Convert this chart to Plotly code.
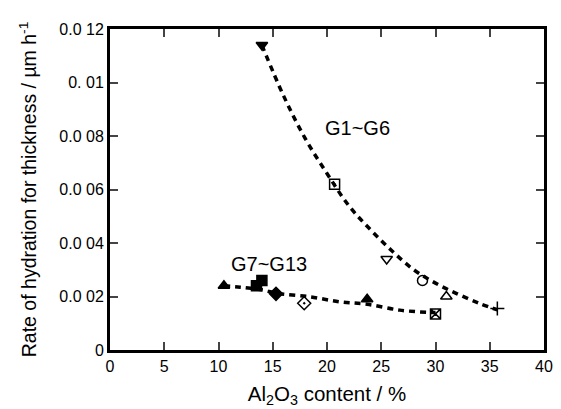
import plotly.graph_objects as go

# Upper group G1~G6 data
g1_x = [14.0, 20.7, 25.5, 28.8, 31.0, 35.7]
g1_y = [0.0114, 0.0062, 0.0034, 0.0026, 0.0020, 0.00155]
g1_sym = ["triangle-down", "square-open-dot", "triangle-down-open", "circle-open", "triangle-up-open", "cross-thin-open"]

# Lower group G7~G13 data
g7_x = [10.5, 13.5, 14.0, 15.3, 17.9, 23.7, 30.0]
g7_y = [0.0024, 0.0024, 0.0026, 0.0021, 0.00175, 0.0019, 0.00135]
g7_sym = ["triangle-up", "square", "square", "diamond", "diamond-open-dot", "triangle-up", "square-x-open"]

# Dashed trend curves
c1_x = [14.0, 16, 18, 20, 22, 24, 26, 28, 30, 32, 34, 35.7]
c1_y = [0.0114, 0.0095, 0.0079, 0.0066, 0.0054, 0.0045, 0.0037, 0.0030, 0.0025, 0.0021, 0.00175, 0.0015]
c2_x = [10.5, 12, 14, 15.4, 18.4, 21.2, 23.7, 26.7, 29.2, 30.0]
c2_y = [0.0024, 0.00235, 0.00225, 0.00212, 0.00199, 0.0018, 0.00171, 0.00149, 0.00141, 0.0014]

y_ticks = [0, 0.002, 0.004, 0.006, 0.008, 0.010, 0.012]
y_labels = ["0", "0.0 02", "0.0 04", "0.0 06", "0.0 08", "0. 01", "0.0 12"]
x_ticks = [0, 5, 10, 15, 20, 25, 30, 35, 40]

fig = go.Figure()
fig.add_trace(go.Scatter(x=c1_x, y=c1_y, mode="lines", line=dict(color="black", width=3.5, dash="6px,5px", shape="spline"), hoverinfo="skip"))
fig.add_trace(go.Scatter(x=c2_x, y=c2_y, mode="lines", line=dict(color="black", width=3.5, dash="6px,5px", shape="spline"), hoverinfo="skip"))
fig.add_trace(go.Scatter(x=g1_x, y=g1_y, mode="markers",
                         marker=dict(symbol=g1_sym, size=10, color="black", line=dict(color="black", width=1.5))))
fig.add_trace(go.Scatter(x=g7_x, y=g7_y, mode="markers",
                         marker=dict(symbol=g7_sym, size=10, color="black", line=dict(color="black", width=1.5))))

fig.add_annotation(x=22.8, y=0.0083, text="G1~G6", showarrow=False, font=dict(size=20, color="black"))
fig.add_annotation(x=14.7, y=0.0032, text="G7~G13", showarrow=False, font=dict(size=20, color="black"))

fig.update_layout(
    width=561, height=409,
    margin=dict(l=110, r=17, t=29, b=59),
    paper_bgcolor="white", plot_bgcolor="white",
    showlegend=False,
    font=dict(family="Liberation Sans, Arial, sans-serif", color="black", size=16),
)
fig.update_xaxes(range=[0, 40], tickvals=x_ticks, ticks="inside", ticklen=8, tickwidth=2, automargin=False,
                 showline=True, linewidth=3, linecolor="black", mirror="ticks", showgrid=False, zeroline=False,
                 title=dict(text="Al<sub>2</sub>O<sub>3</sub> content / %", font=dict(size=20.5), standoff=13),
                 tickfont=dict(size=16))
fig.update_yaxes(range=[0, 0.012], tickvals=y_ticks, ticktext=y_labels, ticks="inside", ticklen=8, tickwidth=2, automargin=False,
                 showline=True, linewidth=3, linecolor="black", mirror="ticks", showgrid=False, zeroline=False,
                 title=dict(text="Rate of hydration for thickness / µm h<sup>-1</sup>", font=dict(size=19.5), standoff=18),
                 tickfont=dict(size=16))

fig.write_html("out.html")
